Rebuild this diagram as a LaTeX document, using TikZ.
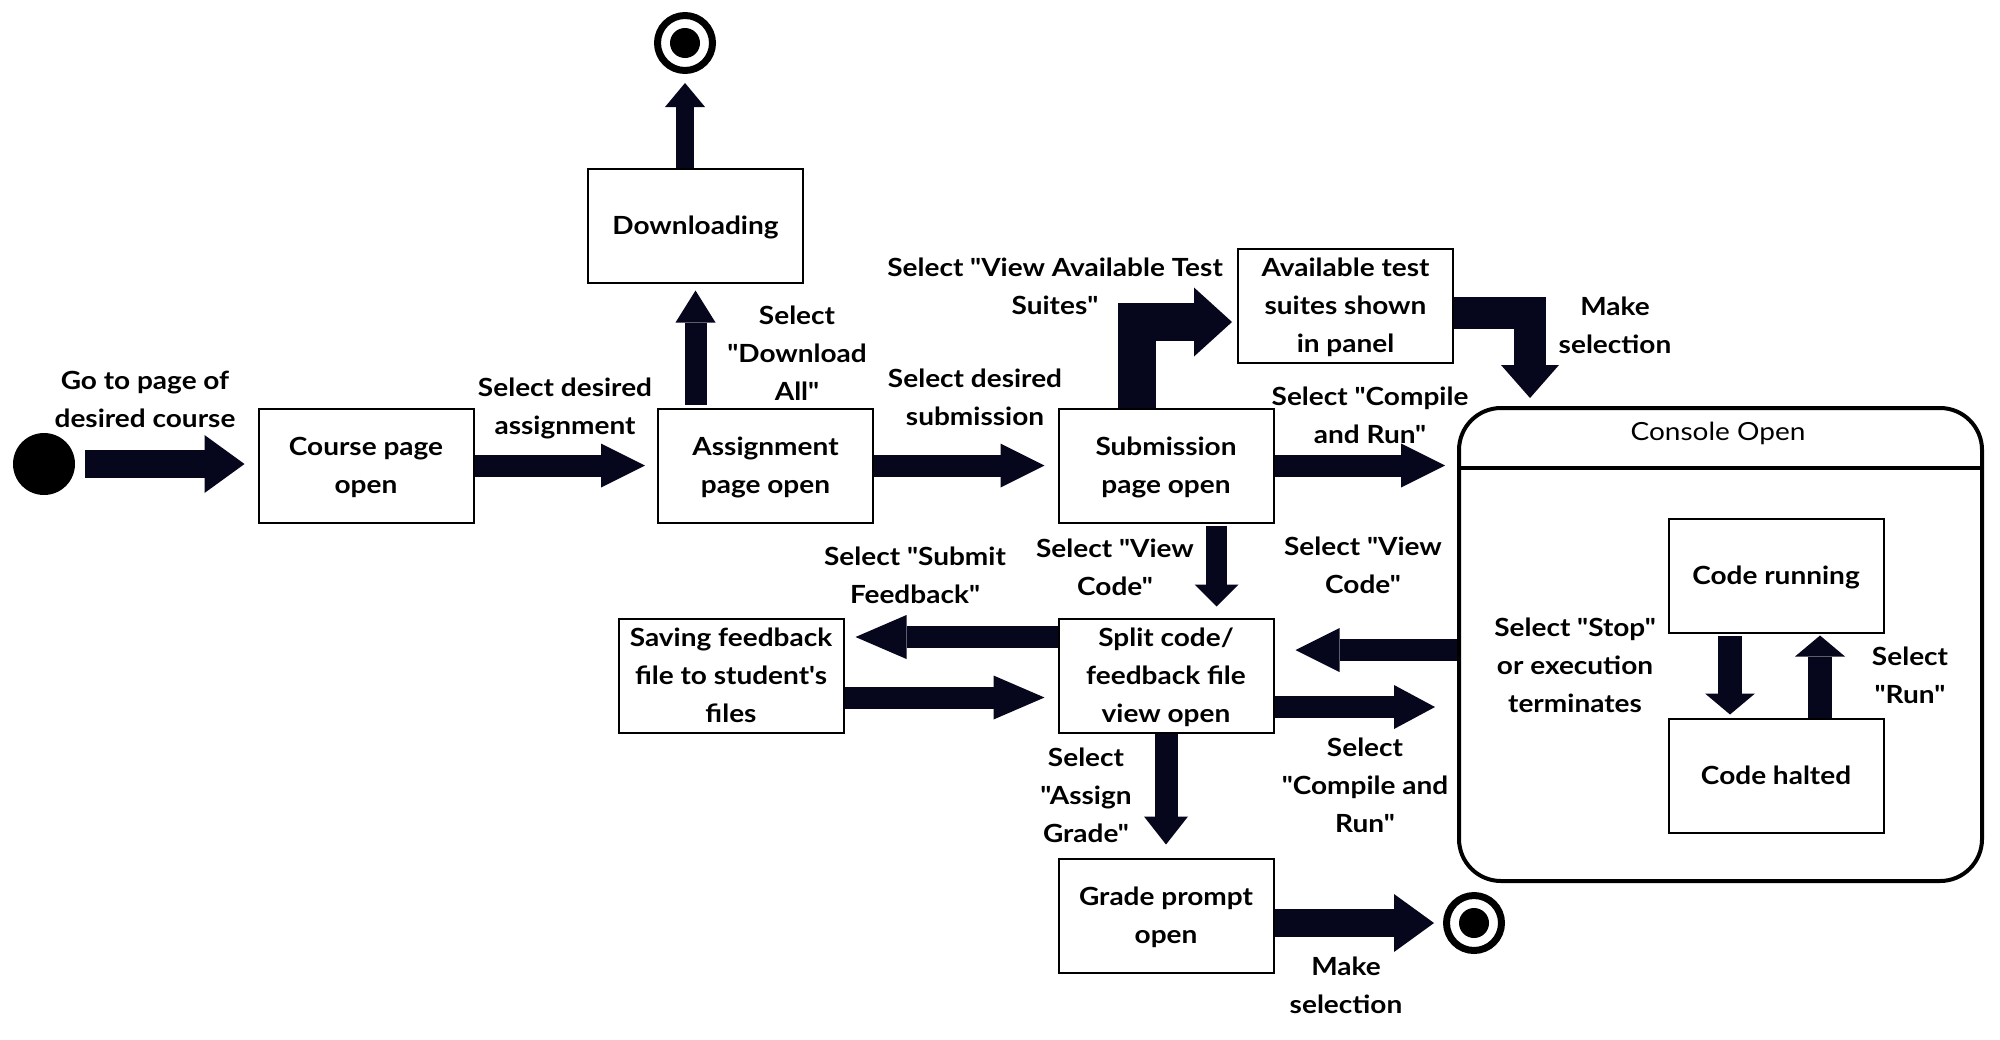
\documentclass[tikz,border=0pt]{standalone}
\usepackage{fontspec}
\setmainfont{Lato}[Ligatures=TeXOff, FakeStretch=1.12]
\usetikzlibrary{arrows.meta}

\definecolor{arrowink}{HTML}{06061C}

\tikzset{
  stbox/.style={draw, line width=1pt, minimum width=107.5pt, minimum height=57pt,
    align=center, inner sep=2pt, text depth=0pt},
  lbl/.style={align=center, inner sep=0pt},
  startdot/.style={circle, fill=black, minimum size=31pt, inner sep=0pt},
  enddot/.style={circle, draw, line width=3.5pt, minimum size=27.5pt, inner sep=0pt,
    path picture={\fill (path picture bounding box.center) circle (7.5pt);}},
  flow/.style={color=arrowink, line width=11pt,
    -{Triangle[width=22pt, length=#1, line width=0pt]}},
  flow/.default=22pt,
  flowbig/.style={color=arrowink, line width=14pt,
    -{Triangle[width=29pt, length=20pt, line width=0pt]}},
  flowbend/.style={color=arrowink, line width=19pt,
    -{Triangle[width=34.5pt, length=19pt, line width=0pt]}},
  flowthin/.style={color=arrowink, line width=11pt,
    -{Triangle[width=20pt, length=#1, line width=0pt]}},
  flowthin/.default=16pt,
  flowin/.style={color=arrowink, line width=12pt,
    -{Triangle[width=25pt, length=10.5pt, line width=0pt]}},
}

\begin{document}
\begin{tikzpicture}[x=0.5pt, y=-0.5pt, font=\fontsize{12.5pt}{19pt}\selectfont\bfseries]
  \useasboundingbox (0,0) rectangle (2000,1039);

  \node[startdot] (start) at (44,464) {};
  \node[stbox] (course) at (366,465.5) {Course page\\open};
  \node[stbox] (assign) at (765.5,465.5) {Assignment\\page open};
  \node[stbox] (download) at (695.5,225.5) {Downloading};
  \node[enddot] (endtop) at (685,43) {};
  \node[stbox] (submit) at (1166,465.5) {Submission\\page open};
  \node[stbox] (suites) at (1345.5,305.5) {Available test\\suites shown\\in panel};
  \node[stbox] (split) at (1166,675.5) {Split code/\\feedback file\\view open};
  \node[stbox, minimum width=112.5pt] (saving) at (731,675.5) {Saving feedback\\file to student's\\files};
  \node[stbox] (grade) at (1166,915.5) {Grade prompt\\open};
  \node[enddot] (endbot) at (1474,923) {};

  \node[draw, line width=2pt, rounded corners=21pt, minimum width=261.5pt,
    minimum height=236.5pt] (console) at (1720.5,644.5) {};
  \node[font=\fontsize{12.5pt}{19pt}\selectfont\mdseries] (consoletitle) at (1718,433) {Console Open};
  \draw[line width=2pt] ([yshift=-31pt]console.north west) -- ([yshift=-31pt]console.north east);
  \node[stbox] (running) at (1776,575.5) {Code running};
  \node[stbox] (halted) at (1776,775.5) {Code halted};

  \node[lbl] (lstart) at (145,399) {Go to page of\\desired course};
  \node[lbl] (lassign) at (565,408) {Select desired\\assignment};
  \node[lbl] (ldownload) at (797,353) {Select\\"Download\\All"};
  \node[lbl] (lsubmit) at (975,397) {Select desired\\submission};
  \node[lbl] (lsuites) at (1055,286) {Select "View Available Test\\Suites"};
  \node[lbl] (lpick) at (1615,325) {Make\\selection};
  \node[lbl] (lcompile) at (1370,415) {Select "Compile\\and Run"};
  \node[lbl] (lviewa) at (1115,567) {Select "View\\Code"};
  \node[lbl] (lviewb) at (1363,565) {Select "View\\Code"};
  \node[lbl] (lfeedback) at (915,575) {Select "Submit\\Feedback"};
  \node[lbl] (lgrade) at (1086,795) {Select\\"Assign\\Grade"};
  \node[lbl] (lrecompile) at (1365,785) {Select\\"Compile and\\Run"};
  \node[lbl] (lfinish) at (1346,985) {Make\\selection};
  \node[lbl] (lstop) at (1575,665) {Select "Stop"\\or execution\\terminates};
  \node[lbl] (lrun) at (1910,675) {Select\\"Run"};

  \draw[flowbig, shorten <=5pt, shorten >=6.5pt] (start) -- (start -| course.west);
  \draw[flow, shorten >=6pt] (course) -- (assign);
  \draw[flowthin, shorten <=1.5pt, shorten >=3.5pt] (download.south |- assign.north) -- (download.south);
  \draw[flowthin=12pt, line width=9pt, shorten >=4.5pt] (endtop |- download.north) -- (endtop);
  \draw[flow, shorten >=6.5pt] (assign) -- (submit);
  \draw[flowbend, shorten >=2.5pt] ([xshift=-14.75pt]submit.north) |- ([yshift=-8.25pt]suites.west);
  \draw[flowbend, line width=16pt, -{Triangle[width=29pt, length=16.5pt, line width=0pt]},
    shorten >=4pt] ([yshift=-3.5pt]suites.east) -| ([xshift=-95.25pt]console.north);
  \draw[flow, shorten >=6pt] (submit.east) -- (submit.east -| console.west);
  \draw[flow=11pt, line width=10.5pt, shorten <=1pt, shorten >=5.5pt] ([xshift=25.25pt]submit.south) -- ([xshift=25.25pt]split.north);
  \draw[flow, shorten >=10.5pt] ([yshift=-2.75pt]console.west) -- ([yshift=12.75pt]split.east);
  \draw[flow=20.5pt, shorten >=11pt] ([yshift=-15.75pt]split.east) -- ([yshift=-31.25pt]console.west);
  \draw[flow=25.5pt, shorten >=5.5pt] ([yshift=19.25pt]split.west) -- ([yshift=19.25pt]saving.east);
  \draw[flow=25.5pt, shorten >=6.5pt] ([yshift=-11pt]saving.east) -- ([yshift=-11pt]split.west);
  \draw[flow=14pt, line width=11.5pt, shorten >=6.5pt] (split) -- (grade);
  \draw[flowbig, shorten >=4.5pt] (grade.east |- endbot) -- (endbot);
  \draw[flowin, shorten <=1pt, shorten >=1.5pt] ([xshift=-23pt]running.south) -- ([xshift=-23pt]halted.north);
  \draw[flowin, shorten >=1pt] ([xshift=22pt]halted.north) -- ([xshift=22pt]running.south);
\end{tikzpicture}
\end{document}
